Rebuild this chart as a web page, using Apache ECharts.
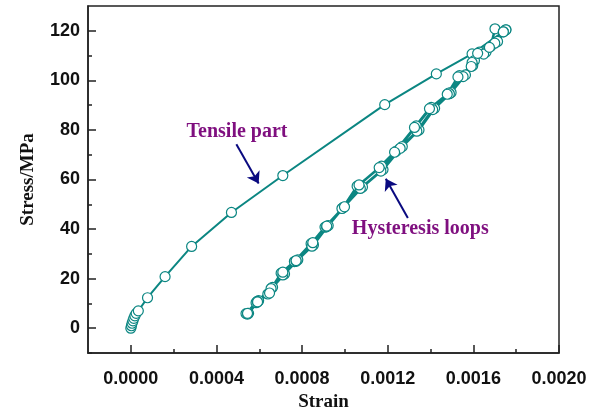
<!DOCTYPE html>
<html>
<head>
<meta charset="utf-8">
<script src="https://cdn.jsdelivr.net/npm/echarts@6/dist/echarts.min.js"></script>
<style>
  html, body { margin: 0; padding: 0; background: #fff; }
  #chart { width: 600px; height: 414px; }
</style>
</head>
<body>
<div id="chart"></div>
<script>
  // tensile (first loading) curve
  var tensileStrain = [0.0000000, 0.0000030, 0.0000060, 0.0000100, 0.0000140, 0.0000190, 0.0000250, 0.0000350,
    0.0000780, 0.0001600, 0.0002840, 0.0004700, 0.0007100, 0.0011860, 0.0014270, 0.0015940, 0.0017520];
  var tensileStress = [0.0, 1.0, 2.0, 3.0, 4.0, 5.0, 6.0, 7.0,
    12.3, 20.8, 33.0, 46.7, 61.6, 90.2, 102.6, 110.7, 120.4];

  // hysteresis loops: unloading and reloading branches
  var unload1Strain = [0.001752, 0.001713, 0.001659, 0.001605, 0.001563, 0.001496, 0.001419, 0.001346, 0.001268, 0.001178,
    0.001082, 0.000995, 0.000922, 0.000853, 0.000780, 0.000718, 0.000662, 0.000597, 0.000550];
  var unload1Stress = [120.4, 115.7, 111.4, 108.0, 102.2, 95.1, 88.7, 80.0, 73.3, 64.0,
    57.0, 48.9, 41.4, 33.6, 27.6, 21.9, 16.5, 11.1, 6.0];
  var reload1Strain = [0.000538, 0.000585, 0.000640, 0.000702, 0.000764, 0.000842, 0.000907, 0.000990, 0.001057, 0.001171,
    0.001240, 0.001333, 0.001403, 0.001485, 0.001535, 0.001597, 0.001628, 0.001682, 0.001701];
  var reload1Stress = [5.9, 10.3, 13.8, 22.2, 26.9, 34.1, 40.8, 48.5, 57.3, 65.4,
    71.5, 81.6, 89.1, 94.9, 101.9, 106.0, 111.4, 113.8, 120.8];
  var unload2Strain = [0.001740, 0.001700, 0.001648, 0.001594, 0.001552, 0.001488, 0.001410, 0.001336, 0.001258, 0.001168,
    0.001072, 0.000986, 0.000914, 0.000846, 0.000772, 0.000710, 0.000655, 0.000590, 0.000545];
  var unload2Stress = [119.6, 115.0, 110.6, 107.2, 101.5, 94.6, 88.2, 79.5, 72.6, 63.4,
    56.4, 48.3, 40.9, 33.1, 27.0, 21.5, 16.0, 10.8, 5.7];
  var reload2Strain = [0.000545, 0.000592, 0.000648, 0.000710, 0.000772, 0.000850, 0.000915, 0.000998, 0.001066, 0.001160,
    0.001232, 0.001325, 0.001395, 0.001478, 0.001528, 0.001590, 0.001620, 0.001675, 0.001740];
  var reload2Stress = [6.0, 10.6, 14.2, 22.6, 27.3, 34.5, 41.2, 49.0, 57.8, 64.8,
    71.0, 81.0, 88.6, 94.4, 101.4, 105.6, 110.9, 113.3, 119.6];

  // ticks
  var xMajorTicks = [0, 0.0004, 0.0008, 0.0012, 0.0016, 0.0020];
  var xMinorTicks = [0.0002, 0.0006, 0.0010, 0.0014, 0.0018];
  var yMajorTicks = [0, 20, 40, 60, 80, 100, 120];
  var yMinorTicks = [-10, 10, 30, 50, 70, 90, 110];

  // annotations: label position and arrow [from, to] in data units
  var tensileNote = {text: 'Tensile part', at: [0.000496, 79.1], arrow: [[0.000493, 74.2], [0.000597, 58.4]]};
  var loopsNote = {text: 'Hysteresis loops', at: [0.001352, 40.1], arrow: [[0.001294, 44.5], [0.001191, 60.3]]};

  function pairs(xs, ys) {
    return xs.map(function (x, i) { return [x, ys[i]]; });
  }

  var teal = '#0b8682';
  var loopData = pairs(unload1Strain, unload1Stress)
    .concat(pairs(reload1Strain, reload1Stress))
    .concat(pairs(unload2Strain, unload2Stress))
    .concat(pairs(reload2Strain, reload2Stress));

  var chart = echarts.init(document.getElementById('chart'));

  var labelFont = {fontFamily: 'Liberation Sans', fontWeight: 'bold', fontSize: 18, color: '#111'};
  var nameFont = {fontFamily: 'Liberation Serif', fontWeight: 'bold', fontSize: 19, color: '#111'};
  var noteFont = {fontFamily: 'Liberation Serif', fontWeight: 'bold', fontSize: 20, color: '#7f0f7f'};
  var axisColor = '#222';

  var option = {
    animation: false,
    grid: {
      left: 88, top: 6, right: 41, bottom: 61,
      outerBoundsMode: 'none', containLabel: false,
      show: true, borderColor: axisColor, borderWidth: 1.5, backgroundColor: '#fff'
    },
    xAxis: [{
      type: 'value', min: -0.0002, max: 0.002,
      name: 'Strain', nameLocation: 'middle', nameGap: 40, nameTextStyle: nameFont,
      axisLine: {show: true, onZero: false, lineStyle: {color: axisColor, width: 1.5}},
      axisTick: {show: true, inside: true, length: 8, customValues: xMajorTicks, lineStyle: {color: axisColor, width: 1.5}},
      axisLabel: {customValues: xMajorTicks, margin: 17, formatter: function (v) { return v.toFixed(4); }, ...labelFont},
      splitLine: {show: false}
    }, {
      type: 'value', min: -0.0002, max: 0.002, position: 'bottom',
      axisLine: {show: false, onZero: false},
      axisTick: {show: true, inside: true, length: 4, customValues: xMinorTicks, lineStyle: {color: axisColor, width: 1.5}},
      axisLabel: {show: false},
      splitLine: {show: false}
    }],
    yAxis: [{
      type: 'value', min: -10, max: 130,
      name: 'Stress/MPa', nameLocation: 'middle', nameGap: 50, nameTextStyle: nameFont,
      axisLine: {show: true, onZero: false, lineStyle: {color: axisColor, width: 1.5}},
      axisTick: {show: true, inside: true, length: 8, customValues: yMajorTicks, lineStyle: {color: axisColor, width: 1.5}},
      axisLabel: {customValues: yMajorTicks, margin: 8, ...labelFont},
      splitLine: {show: false}
    }, {
      type: 'value', min: -10, max: 130, position: 'left',
      axisLine: {show: false, onZero: false},
      axisTick: {show: true, inside: true, length: 4, customValues: yMinorTicks, lineStyle: {color: axisColor, width: 1.5}},
      axisLabel: {show: false},
      splitLine: {show: false}
    }],
    series: [{
      name: 'Tensile',
      type: 'line',
      data: pairs(tensileStrain, tensileStress),
      symbol: 'circle', symbolSize: 10,
      lineStyle: {color: teal, width: 2},
      itemStyle: {color: '#fff', borderColor: teal, borderWidth: 1.2},
      markLine: {
        silent: true,
        symbol: ['none', 'arrow'], symbolSize: 11,
        lineStyle: {color: '#0a0a80', width: 2, type: 'solid'},
        label: {show: false},
        data: [
          [{coord: tensileNote.arrow[0]}, {coord: tensileNote.arrow[1]}],
          [{coord: loopsNote.arrow[0]}, {coord: loopsNote.arrow[1]}]
        ]
      },
      markPoint: {
        silent: true,
        symbol: 'rect', symbolSize: 1,
        itemStyle: {color: 'rgba(0,0,0,0)'},
        label: {show: true, position: 'inside', formatter: '{b}', ...noteFont},
        data: [
          {name: tensileNote.text, coord: tensileNote.at},
          {name: loopsNote.text, coord: loopsNote.at}
        ]
      }
    }, {
      name: 'Loops',
      type: 'line',
      data: loopData,
      symbol: 'circle', symbolSize: 10,
      lineStyle: {color: teal, width: 2.5},
      itemStyle: {color: '#fff', borderColor: teal, borderWidth: 1.2}
    }]
  };

  chart.setOption(option);
</script>
</body>
</html>
